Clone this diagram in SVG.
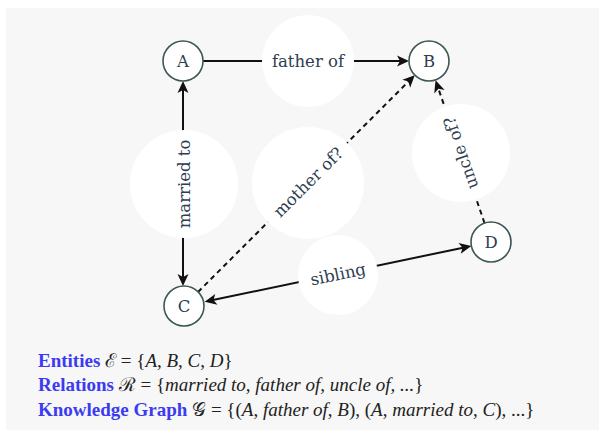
<svg xmlns="http://www.w3.org/2000/svg" width="605" height="437" viewBox="0 0 605 437">
<style>
.node circle{fill:#ffffff;stroke:#3d5656;stroke-width:1.6}
.node text{font-family:"DejaVu Serif",serif;font-size:16.5px;fill:#2e3e50;text-anchor:middle}
.edge{fill:none;stroke:#111;stroke-width:2}
.dash{stroke-dasharray:5 4}
.lbl circle{fill:#ffffff}
.lbl text{font-family:"DejaVu Serif",serif;font-size:16.5px;fill:#2e3e50;text-anchor:middle}
.info{font-family:"Liberation Serif",serif;font-size:19px;fill:#222}
.kw{font-weight:bold;fill:#3b3bf2}
.it{font-style:italic}
</style>
<defs>
<marker id="ah" markerUnits="userSpaceOnUse" markerWidth="20" markerHeight="20" viewBox="-10 -10 20 20" refX="0" refY="0" orient="auto-start-reverse">
<path d="M6,0 L-6,-5.5 L-3,0 L-6,5.5 Z" fill="#111"/>
</marker>
</defs>
<rect x="6" y="8" width="593" height="422" fill="#f7f7f7"/>
<g id="connectors">
<line class="edge" x1="203" y1="61" x2="403" y2="61" marker-end="url(#ah)"/>
<line class="edge" x1="183" y1="87" x2="183" y2="280" marker-start="url(#ah)" marker-end="url(#ah)"/>
<line class="edge dash" x1="198" y1="292" x2="410.5" y2="79.5" marker-end="url(#ah)"/>
<line class="edge dash" x1="484.5" y1="223" x2="437.5" y2="86" marker-end="url(#ah)"/>
<line class="edge" x1="210.5" y1="300.5" x2="465.5" y2="247.2" marker-start="url(#ah)" marker-end="url(#ah)"/>
</g>
<g id="labels">
<g class="lbl" id="lbl-father"><circle cx="308" cy="61" r="46"/><text x="308" y="67">father of</text></g>
<g class="lbl" id="lbl-married"><circle cx="184" cy="184" r="54"/><text transform="translate(184,184) rotate(-90)" y="6">married to</text></g>
<g class="lbl" id="lbl-mother"><circle cx="308" cy="183" r="56"/><text transform="translate(308,182) rotate(-45)" y="6">mother of?</text></g>
<g class="lbl" id="lbl-uncle"><circle cx="461" cy="153" r="49"/><text transform="translate(460.5,153) rotate(-108.9)" y="6">uncle of?</text></g>
<g class="lbl" id="lbl-sibling"><circle cx="338" cy="275" r="40"/><text transform="translate(338,274) rotate(-11.8)" y="6">sibling</text></g>
</g>
<g id="node-A" class="node"><circle cx="183" cy="61" r="20"/><text x="183" y="67">A</text></g>
<g id="node-B" class="node"><circle cx="429" cy="61" r="20"/><text x="429" y="67">B</text></g>
<g id="node-C" class="node"><circle cx="184" cy="306" r="20"/><text x="184" y="312">C</text></g>
<g id="node-D" class="node"><circle cx="491" cy="242" r="20"/><text x="491" y="248">D</text></g>
<g id="info">
<text class="info" x="38" y="367"><tspan class="kw">Entities</tspan> ℰ = {<tspan class="it">A</tspan>, <tspan class="it">B</tspan>, <tspan class="it">C</tspan>, <tspan class="it">D</tspan>}</text>
<text class="info" x="38" y="391"><tspan class="kw">Relations</tspan> ℛ = {<tspan class="it">married to, father of, uncle of, ...</tspan>}</text>
<text class="info" x="38" y="416"><tspan class="kw">Knowledge Graph</tspan> 𝒢 = {(<tspan class="it">A</tspan>, <tspan class="it">father of</tspan>, <tspan class="it">B</tspan>), (<tspan class="it">A</tspan>, <tspan class="it">married to</tspan>, <tspan class="it">C</tspan>), ...}</text>
</g>
</svg>
